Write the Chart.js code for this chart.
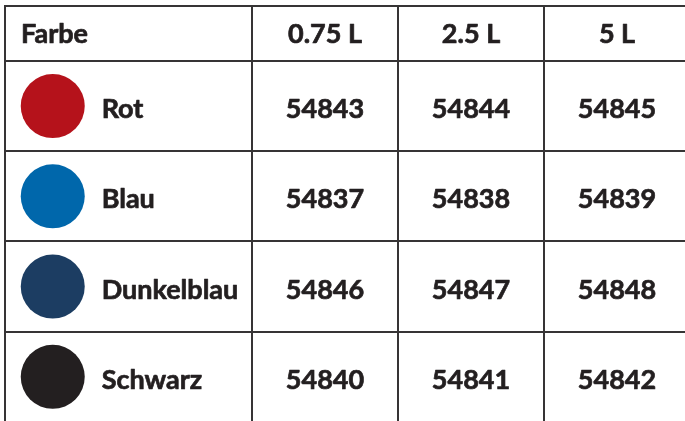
<!DOCTYPE html>
<html>
<head>
<meta charset="utf-8">
<script src="https://cdn.jsdelivr.net/npm/chart.js@4"></script>
<style>
  html, body { margin: 0; padding: 0; background: #fff; overflow: hidden; }
  #wrap { width: 700px; height: 440px; position: relative; }
</style>
</head>
<body>
<div id="wrap"><canvas id="table"></canvas></div>
<script>
// table data
const headerLabel = "Farbe";
const sizes = ["0.75 L", "2.5 L", "5 L"];
const colorNames = ["Rot", "Blau", "Dunkelblau", "Schwarz"];
const codes075 = [54843, 54837, 54846, 54840];
const codes25 = [54844, 54838, 54847, 54841];
const codes5 = [54845, 54839, 54848, 54842];
const swatchColors = ["#b5121b", "#0067ab", "#1c3d62", "#231f20"];

// layout in scale units (value columns = 1 wide, body rows = 1 high)
const firstCol = 1.692;
const headerRow = 0.609;
const swatchX = 0.327;
const nameX = 0.662;
const ink = "#231f20";
const font = "Lato, 'Open Sans', sans-serif";

const codeColumns = [codes075, codes25, codes5];
const rowCenter = (i) => headerRow + i + 0.5;
const colCenter = (j) => firstCol + j + 0.5;

const xBounds = [0, firstCol, firstCol + 1, firstCol + 2, firstCol + 3];
const yBounds = [0, headerRow];
colorNames.forEach((_, i) => yBounds.push(headerRow + i + 1));

// draws header and cell text at scale positions (thin stroke makes it heavier)
const cellText = {
    id: "cellText",
    afterDatasetsDraw(chart) {
        const { ctx, scales: { x, y } } = chart;
        ctx.save();
        ctx.fillStyle = ink;
        ctx.strokeStyle = ink;
        ctx.lineWidth = 0.7;
        ctx.lineJoin = "round";
        ctx.textBaseline = "alphabetic";
        ctx.font = "bold 27px " + font;
        const put = (t, px, py) => { ctx.fillText(t, px, py); ctx.strokeText(t, px, py); };

        const headY = y.getPixelForValue(headerRow / 2) + 10;
        ctx.textAlign = "left";
        put(headerLabel, x.getPixelForValue(0) + 16, headY);
        ctx.textAlign = "center";
        sizes.forEach((s, j) => put(s, x.getPixelForValue(colCenter(j)), headY));

        colorNames.forEach((name, i) => {
            const py = y.getPixelForValue(rowCenter(i)) + 12;
            ctx.textAlign = "left";
            put(name, x.getPixelForValue(nameX), py);
            ctx.textAlign = "center";
            codeColumns.forEach((col, j) => {
                put(String(col[i]), x.getPixelForValue(colCenter(j)), py);
            });
        });
        ctx.restore();
    }
};

new Chart(document.getElementById("table"), {
    type: "scatter",
    data: {
        datasets: [{
            data: colorNames.map((_, i) => ({ x: swatchX, y: rowCenter(i) })),
            pointRadius: 32,
            pointHoverRadius: 32,
            pointBorderWidth: 0,
            pointBackgroundColor: swatchColors,
            pointBorderColor: swatchColors
        }]
    },
    options: {
        responsive: true,
        maintainAspectRatio: false,
        animation: false,
        events: [],
        layout: { autoPadding: false, padding: { left: 5, top: 6, right: 10, bottom: 18 } },
        plugins: { legend: { display: false }, tooltip: { enabled: false } },
        scales: {
            x: {
                type: "linear",
                position: "top",
                min: 0,
                max: firstCol + 3,
                afterBuildTicks: (s) => { s.ticks = xBounds.map((v) => ({ value: v })); },
                ticks: { display: false },
                grid: { color: "#363435", lineWidth: 2, drawTicks: false },
                border: { display: true, color: "#363435", width: 2 }
            },
            y: {
                type: "linear",
                reverse: true,
                min: 0,
                max: headerRow + colorNames.length,
                afterBuildTicks: (s) => { s.ticks = yBounds.map((v) => ({ value: v })); },
                ticks: { display: false },
                grid: { color: "#363435", lineWidth: 2, drawTicks: false },
                border: { display: true, color: "#363435", width: 2 }
            }
        }
    },
    plugins: [cellText]
});
</script>
</body>
</html>
